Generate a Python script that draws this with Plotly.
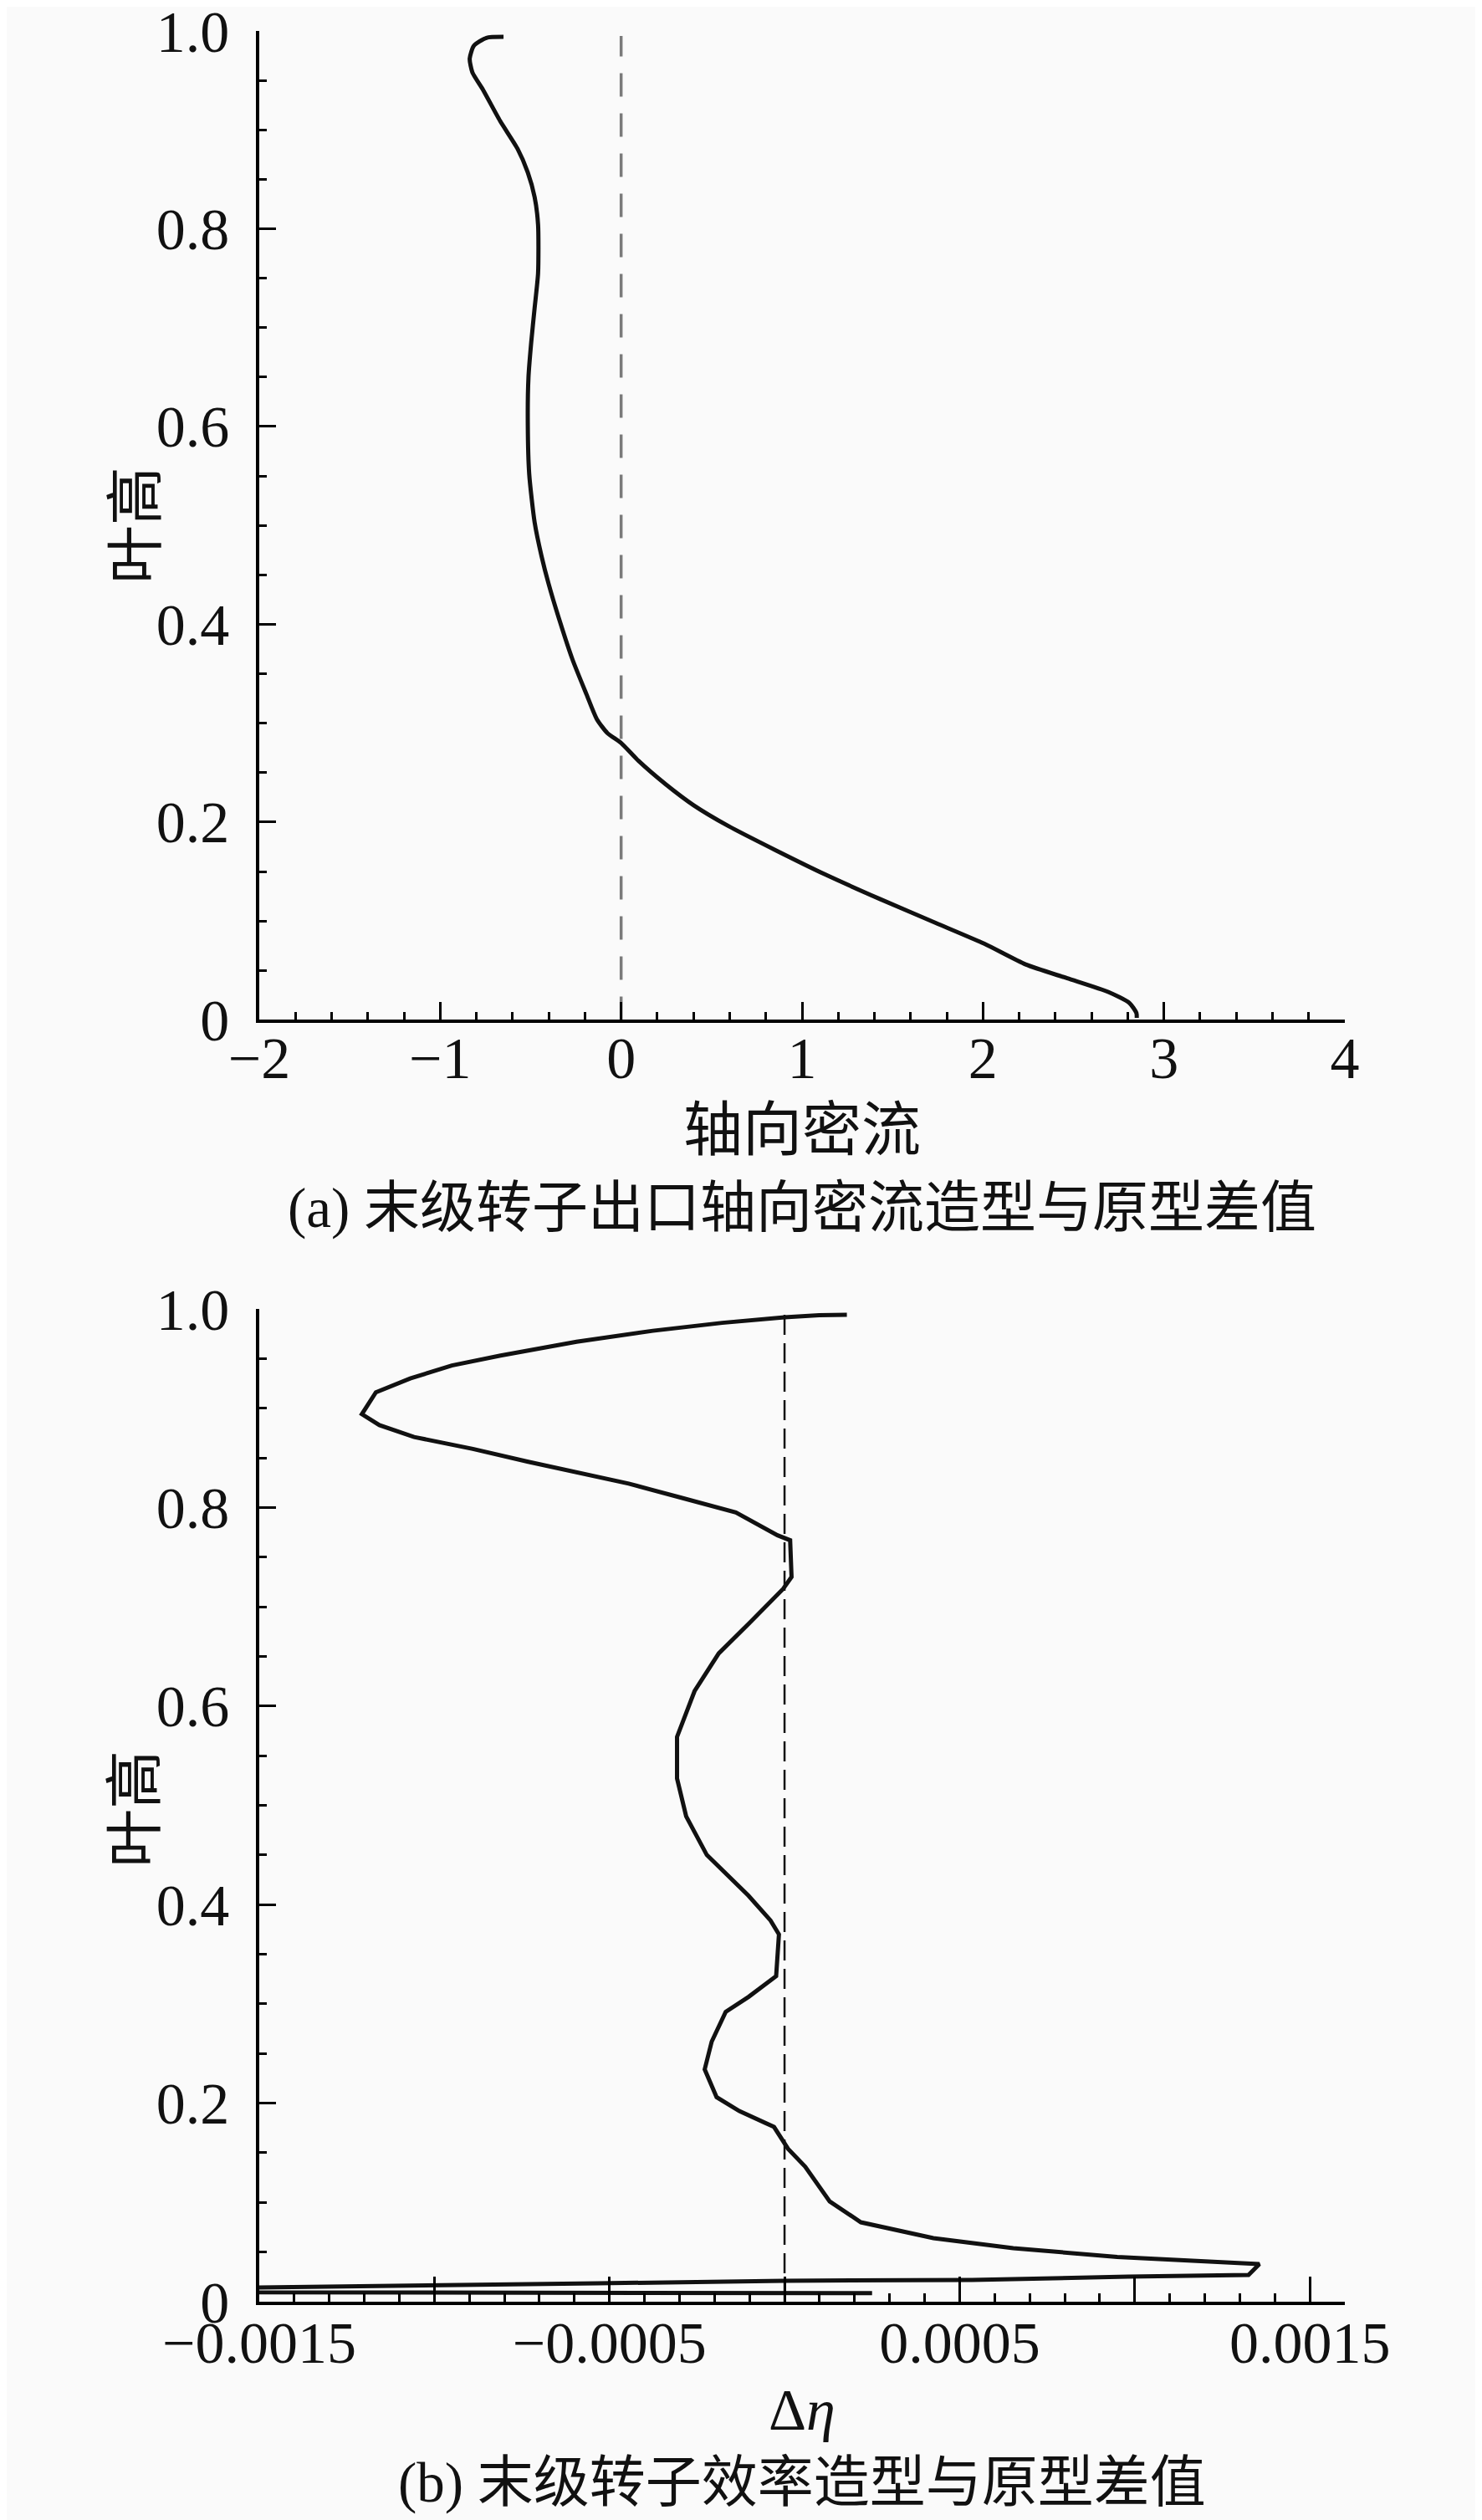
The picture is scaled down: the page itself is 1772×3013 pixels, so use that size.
import plotly.graph_objects as go

# (a) axial mass flow difference vs blade height
a_x = [-0.65, -0.745, -0.814, -0.837, -0.822, -0.765, -0.669, -0.573, -0.516, -0.478,
       -0.459, -0.459, -0.478, -0.497, -0.512, -0.516, -0.508, -0.478, -0.440, -0.401,
       -0.344, -0.268, -0.191, -0.134, -0.076, 0.0, 0.096, 0.248, 0.401, 0.593,
       0.860, 1.128, 1.433, 1.739, 2.007, 2.236, 2.466, 2.695, 2.810, 2.848, 2.85]
a_y = [0.994, 0.993, 0.985, 0.972, 0.958, 0.941, 0.909, 0.881, 0.857, 0.832,
       0.804, 0.755, 0.720, 0.685, 0.650, 0.608, 0.552, 0.503, 0.469, 0.441,
       0.406, 0.364, 0.329, 0.304, 0.290, 0.280, 0.262, 0.238, 0.217, 0.196,
       0.171, 0.147, 0.122, 0.098, 0.077, 0.056, 0.042, 0.028, 0.017, 0.007, 0.002]

# (b) efficiency difference vs blade height
b_x = [0.000178, 0.0000989, 0.0, -0.000178, -0.000376, -0.000594, -0.000811, -0.00095,
       -0.001069, -0.001167, -0.001207, -0.001157, -0.001058, -0.00089, -0.000732,
       -0.000574, -0.000445, -0.000297, -0.000139, -0.00002, 0.000016, 0.00002,
       -0.000004, -0.000099, -0.000188, -0.000257, -0.000307, -0.000307, -0.000281,
       -0.000222, -0.000103, -0.00004, -0.000016, -0.000024, -0.000103, -0.000168,
       -0.000208, -0.000228, -0.000194, -0.000129, -0.00003, 0.00001, 0.000059,
       0.000129, 0.000218, 0.000425, 0.000653, 0.00095, 0.001356, 0.001325,
       0.000981, 0.000535, 0.0, -0.000535, -0.000883, -0.00121, -0.0015, -0.0016,
       -0.0015, 0.00025]
b_y = [0.994, 0.9937, 0.9916, 0.986, 0.978, 0.967, 0.953, 0.943,
       0.930, 0.916, 0.894, 0.883, 0.871, 0.859, 0.846,
       0.834, 0.824, 0.810, 0.795, 0.772, 0.767, 0.730,
       0.718, 0.684, 0.653, 0.615, 0.569, 0.527, 0.489,
       0.450, 0.409, 0.384, 0.370, 0.328, 0.307, 0.292,
       0.262, 0.234, 0.206, 0.192, 0.176, 0.154, 0.136,
       0.101, 0.080, 0.064, 0.054, 0.045, 0.038, 0.027,
       0.0253, 0.0219, 0.0211, 0.0185, 0.0168, 0.016, 0.0143, 0.012,
       0.0095, 0.0086]

# zero reference lines
zero_x = [0, 0]
zero_y = [0, 0.995]

y_ticks = [0, 0.2, 0.4, 0.6, 0.8, 1.0]
y_labels = ["0", "0.2", "0.4", "0.6", "0.8", "1.0"]
a_ticks = [-2, -1, 0, 1, 2, 3, 4]
a_labels = ["\u22122", "\u22121", "0", "1", "2", "3", "4"]
b_ticks = [-0.0015, -0.001, -0.0005, 0, 0.0005, 0.001, 0.0015]
b_labels = ["\u22120.0015", "", "\u22120.0005", "", "0.0005", "", "0.0015"]

FONT = "Liberation Serif, Noto Sans CJK SC"
BG = "#fafafa"

fig = go.Figure()
fig.add_trace(go.Scatter(x=zero_x, y=zero_y, mode="lines", xaxis="x", yaxis="y",
                         line=dict(color="#7a7a7a", width=3.5, dash="28px,20px")))
fig.add_trace(go.Scatter(x=a_x, y=a_y, mode="lines", xaxis="x", yaxis="y",
                         line=dict(color="#111111", width=5, shape="spline", smoothing=0.6)))
fig.add_trace(go.Scatter(x=zero_x, y=zero_y, mode="lines", xaxis="x2", yaxis="y2",
                         line=dict(color="#111111", width=2.5, dash="24px,10px")))
fig.add_trace(go.Scatter(x=b_x, y=b_y, mode="lines", xaxis="x2", yaxis="y2",
                         line=dict(color="#111111", width=5)))

common = dict(showline=True, linecolor="black", linewidth=3.5, showgrid=False,
              zeroline=False, ticks="inside", tickcolor="black", tickwidth=3,
              automargin=False, ticklabeloverflow="allow",
              tickfont=dict(family=FONT, size=70, color="#111111"), mirror=False)

y_common = dict(common, range=[0, 1.0], tickmode="array", tickvals=y_ticks,
                ticktext=y_labels, ticklen=20, ticklabelstandoff=18,
                minor=dict(dtick=0.05, tick0=0, ticks="inside", ticklen=9,
                           tickwidth=3, tickcolor="black"))

# the page body adds 8px, so margins are trimmed by that much
fig.update_layout(
    width=1772, height=3013,
    margin=dict(l=302, r=172, t=29, b=269),
    paper_bgcolor=BG, plot_bgcolor=BG,
    showlegend=False,
    font=dict(family=FONT, color="#111111"),
    xaxis=dict(common, domain=[0, 1], anchor="y", range=[-2, 4], tickmode="array",
               tickvals=a_ticks, ticktext=a_labels, ticklen=22, ticklabelstandoff=-18,
               minor=dict(dtick=0.2, tick0=0, ticks="inside", ticklen=10,
                          tickwidth=3, tickcolor="black")),
    yaxis=dict(y_common, domain=[0.5645, 1], anchor="x"),
    xaxis2=dict(common, domain=[0, 1], anchor="y2", range=[-0.0015, 0.0016],
                tickmode="array", tickvals=b_ticks, ticktext=b_labels, ticklen=30,
                ticklabelstandoff=-15,
                minor=dict(dtick=0.0001, tick0=0, ticks="inside", ticklen=10,
                           tickwidth=3, tickcolor="black")),
    yaxis2=dict(y_common, domain=[0, 0.4372], anchor="x2"),
)

notes = [
    dict(text="轴向密流", x=0.5, y=0.5160, size=71, angle=0),
    dict(text="(a) 末级转子出口轴向密流造型与原型差值", x=0.5, y=0.4814, size=67, angle=0),
    dict(text="Δ<i>η</i>", x=0.5, y=-0.0478, size=70, angle=0),
    dict(text="(b) 末级转子效率造型与原型差值", x=0.5, y=-0.0798, size=67, angle=0),
    dict(text="叶高", x=-0.1133, y=0.7823, size=70, angle=-90),
    dict(text="叶高", x=-0.1133, y=0.2170, size=70, angle=-90),
]
for n in notes:
    fig.add_annotation(text=n["text"], x=n["x"], y=n["y"], xref="paper", yref="paper",
                       xanchor="center", yanchor="middle", showarrow=False,
                       textangle=n["angle"],
                       font=dict(family=FONT, size=n["size"], color="#111111"))

fig.write_html("out.html")
